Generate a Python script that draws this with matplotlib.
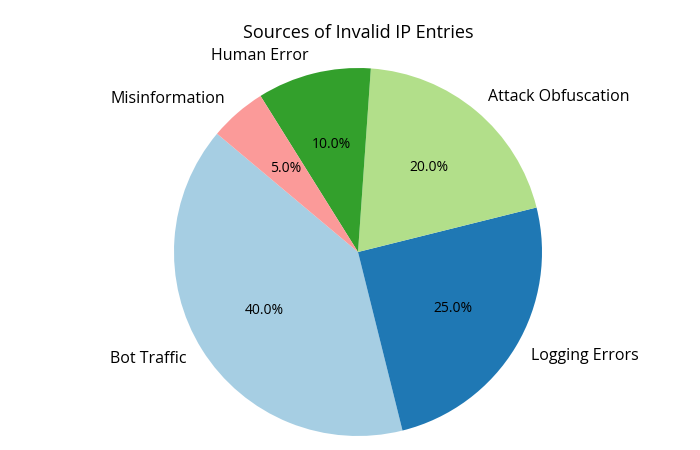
import matplotlib
matplotlib.use("Agg")
import matplotlib.pyplot as plt

labels = ["Bot Traffic", "Logging Errors", "Attack Obfuscation", "Human Error", "Misinformation"]
values = [40, 25, 20, 10, 5]
colors = ["#a6cee3", "#1f78b4", "#b2df8a", "#33a02c", "#fb9a99"]

plt.rcParams['font.family'] = ['Open Sans', 'DejaVu Sans']
fig = plt.figure(figsize=(7, 4.5), dpi=100)
ax = fig.add_axes([(358 - 184) / 700, 14 / 450, 368 / 700, 368 / 450])
ax.pie(values, labels=labels, colors=colors, autopct='%1.1f%%', startangle=140,
       textprops={'fontsize': 10})
for t in ax.texts:
    if '%' not in t.get_text():
        t.set_fontsize(11.5)
ax.set_xlim(-1, 1)
ax.set_ylim(-1, 1)
ax.set_aspect('equal')
fig.text(358 / 700, 1 - 33 / 450, "Sources of Invalid IP Entries", fontsize=13,
         ha='center', va='center')
fig.savefig("out.png", dpi=100)
